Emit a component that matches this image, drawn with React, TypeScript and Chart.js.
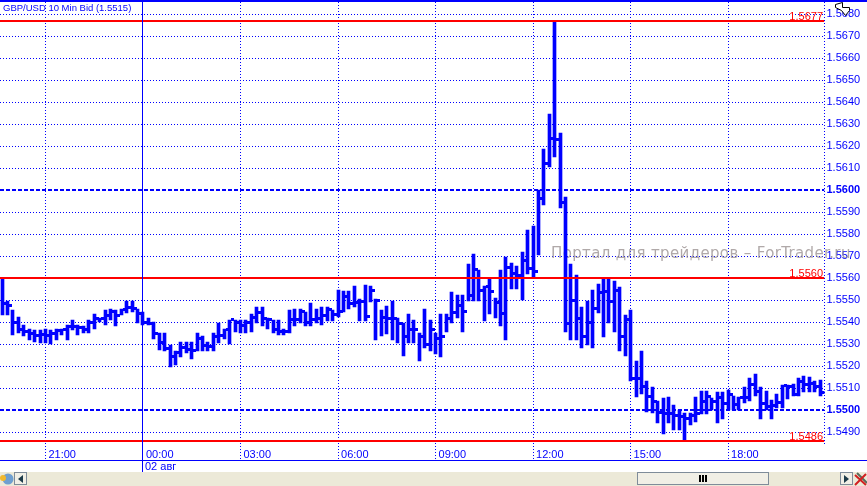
import React, { useEffect, useRef } from "react";
import { Chart, registerables } from "chart.js";

Chart.register(...registerables);

const highs = [
  1.55595,1.55497,1.55455,1.55425,1.55385,1.5537,1.55365,1.55365,1.5537,1.55365,
  1.5537,1.5537,1.55385,1.5541,1.55385,1.5538,1.5541,1.55435,1.5542,1.55455,
  1.5546,1.55455,1.5546,1.55495,1.55495,1.5546,1.55445,1.5542,1.554,1.5535,
  1.5535,1.55295,1.5527,1.5531,1.5531,1.5531,1.5535,1.55335,1.5531,1.5535,
  1.55395,1.5537,1.5541,1.5541,1.5541,1.5541,1.55435,1.5547,1.5547,1.5542,
  1.5541,1.5541,1.5537,1.55455,1.5546,1.5546,1.55445,1.55485,1.5546,1.5547,
  1.5547,1.55455,1.55545,1.5554,1.5554,1.55565,1.55505,1.5557,1.55565,1.55505,
  1.55455,1.55475,1.55495,1.5542,1.55395,1.55435,1.5541,1.5535,1.5546,1.5541,
  1.5535,1.55435,1.55435,1.55535,1.55525,1.55525,1.55665,1.5571,1.55635,1.55565,
  1.556,1.5551,1.55635,1.55695,1.5567,1.55655,1.5572,1.5582,1.55835,1.56,
  1.56185,1.56345,1.5677,1.5626,1.5597,1.55665,1.55615,1.5547,1.55495,1.55545,
  1.55575,1.55595,1.55595,1.55585,1.5556,1.5543,1.55455,1.55225,1.5527,1.5513,
  1.55105,1.5504,1.55055,1.5506,1.55025,1.55,1.54985,1.54985,1.5506,1.55085,
  1.55085,1.55055,1.5508,1.5508,1.5509,1.55065,1.5506,1.55105,1.55145,1.55165,
  1.55105,1.55085,1.55045,1.55075,1.55115,1.55115,1.5512,1.55145,1.55155,1.5515,
  1.5513,1.55135,
];
const lows = [
  1.5543,1.55432,1.5534,1.5535,1.55335,1.5532,1.5531,1.55305,1.55305,1.553,
  1.5532,1.5534,1.5532,1.55365,1.5534,1.5535,1.5535,1.5537,1.554,1.55385,
  1.5541,1.5538,1.5543,1.5544,1.55445,1.55395,1.55385,1.55385,1.55325,1.55275,
  1.5527,1.55195,1.55205,1.5524,1.5526,1.5523,1.5527,1.5527,1.5527,1.5527,
  1.55305,1.55325,1.553,1.55355,1.5535,1.5535,1.55355,1.55395,1.5538,1.5537,
  1.5535,1.5534,1.5534,1.5535,1.5538,1.55395,1.5538,1.5538,1.55395,1.55385,
  1.55405,1.55405,1.55425,1.55445,1.5546,1.5547,1.55405,1.55405,1.5549,1.5532,
  1.55335,1.55345,1.5532,1.55305,1.55245,1.55305,1.55305,1.55225,1.5528,1.5527,
  1.55255,1.5524,1.55355,1.55395,1.5542,1.55355,1.55495,1.55495,1.55495,1.55405,
  1.55435,1.5542,1.5538,1.5532,1.5555,1.5555,1.555,1.5562,1.55605,1.55705,
  1.5593,1.56105,1.5615,1.5592,1.55355,1.5532,1.5532,1.5528,1.55295,1.5528,
  1.5544,1.5533,1.55395,1.55355,1.5527,1.55245,1.5513,1.5506,1.55075,1.5499,
  1.54985,1.5494,1.5489,1.5494,1.5491,1.5491,1.5486,1.5493,1.54945,1.5498,
  1.5498,1.55,1.5494,1.5496,1.55,1.55,1.55,1.5503,1.5504,1.55065,
  1.5496,1.55,1.5496,1.5501,1.5501,1.5505,1.55065,1.55065,1.5508,1.5508,
  1.5508,1.55065,
];
const closes = [
  1.55485,1.55477,1.554,1.55365,1.55355,1.5535,1.5534,1.55345,1.5534,1.5535,
  1.5536,1.55365,1.5538,1.5538,1.55375,1.55365,1.554,1.55415,1.55415,1.5543,
  1.5545,1.5543,1.55455,1.55465,1.5546,1.5544,1.554,1.55395,1.5535,1.55305,
  1.5528,1.55245,1.5526,1.55285,1.55275,1.5527,1.55325,1.55295,1.5529,1.55335,
  1.5534,1.55365,1.5541,1.554,1.55385,1.554,1.5542,1.55445,1.55415,1.5541,
  1.55365,1.55355,1.55355,1.5541,1.5541,1.5545,1.554,1.5541,1.55415,1.5543,
  1.55455,1.55435,1.5545,1.55515,1.55485,1.5549,1.55495,1.55425,1.55545,1.555,
  1.5542,1.55415,1.55415,1.55395,1.55335,1.55365,1.55365,1.55335,1.553,1.55365,
  1.55325,1.55335,1.55415,1.55445,1.55475,1.5545,1.5552,1.5564,1.55545,1.5556,
  1.5554,1.5549,1.5544,1.5565,1.5562,1.5561,1.5568,1.55645,1.5563,1.5596,
  1.5612,1.56235,1.5623,1.55945,1.55395,1.555,1.55415,1.55335,1.554,1.5546,
  1.55535,1.5554,1.55495,1.55545,1.55335,1.5541,1.55145,1.55145,1.55105,1.5506,
  1.5504,1.5499,1.54985,1.54985,1.54975,1.5497,1.5496,1.54975,1.54985,1.5504,
  1.5506,1.5504,1.55055,1.5503,1.5507,1.55025,1.55055,1.55055,1.55115,1.55085,
  1.5503,1.55015,1.5502,1.55035,1.5511,1.55105,1.5507,1.5513,1.55115,1.5512,
  1.55105,1.5508,
];

const timeTickIndex = [8, 26, 44, 62, 80, 98, 116, 134];
const timeTickLabels = ["21:00", "00:00", "03:00", "06:00", "09:00", "12:00", "15:00", "18:00"];
const priceTicks = [
  1.568, 1.567, 1.566, 1.565, 1.564, 1.563, 1.562, 1.561, 1.56, 1.559, 1.558, 1.557, 1.556, 1.555,
  1.554, 1.553, 1.552, 1.551, 1.55, 1.549,
];
const boldPrices = [1.56, 1.55];
const redLevels = [1.5677, 1.556, 1.5486];
const dateMarkerIndex = 26;
const dateLabel = "02 авг";
const titleText = "GBP/USD 10 Min Bid (1.5515)";
const watermark = "Портал для трейдеров – ForTrader.ru";

const BLUE = "#0000ff";
const RED = "#ff0000";
const FONT = '"Liberation Sans", Arial, sans-serif';

const XMIN = -2.1 / 5.418;
const XMAX = (824.5 - 2.1) / 5.418;

const snapPlugin = {
  id: "snap",
  afterDatasetsUpdate(chart: any) {
    chart.data.datasets.forEach((ds: any, di: number) => {
      const meta = chart.getDatasetMeta(di);
      meta.data.forEach((el: any, k: number) => {
        if (ds.type === "bar") {
          el.x = Math.round(el.x - 1.5) + 1.5;
          el.y = Math.round(el.y);
          el.base = Math.round(el.base);
          el.height = el.base - el.y;
        } else if (ds.snapTick) {
          const bar = chart.getDatasetMeta(ds.barIndex).data[k];
          el.x = bar.x + 3;
          el.y = Math.round(el.y - 0.5) + 0.5;
        } else {
          el.y = Math.round(el.y);
        }
      });
    });
  },
};

const chromePlugin = {
  id: "chrome",
  beforeDatasetsDraw(chart: any) {
    const { ctx } = chart;
    ctx.save();
    ctx.fillStyle = "rgba(150,140,140,0.75)";
    ctx.font = '15px "DejaVu Sans", sans-serif';
    ctx.textAlign = "left";
    ctx.textBaseline = "alphabetic";
    (ctx as any).letterSpacing = "0.36px";
    ctx.fillText(watermark, 551, 258);
    (ctx as any).letterSpacing = "0px";
    ctx.restore();
  },
  afterDraw(chart: any) {
    const { ctx, scales } = chart;
    const x = scales.x;
    const y = scales.y;
    ctx.save();
    // frame
    ctx.fillStyle = BLUE;
    ctx.fillRect(0, 0, 867, 2);
    ctx.fillRect(0, 460, 867, 1);
    const dx = Math.round(x.getPixelForValue(dateMarkerIndex) - 0.5);
    ctx.fillRect(dx, 0, 1, 472);
    // right axis line
    ctx.strokeStyle = BLUE;
    ctx.lineWidth = 1;
    ctx.setLineDash([1, 2]);
    ctx.beginPath();
    ctx.moveTo(824.5, 2);
    ctx.lineTo(824.5, 446);
    ctx.stroke();
    ctx.setLineDash([]);
    // text
    ctx.textBaseline = "alphabetic";
    ctx.fillStyle = BLUE;
    ctx.textAlign = "left";
    ctx.font = `9.5px ${FONT}`;
    ctx.fillText(titleText, 3, 11);
    ctx.font = `11px ${FONT}`;
    ctx.fillText(dateLabel, dx + 3, 470);
    ctx.fillStyle = RED;
    ctx.textAlign = "right";
    redLevels.forEach((v) => {
      ctx.fillText(v.toFixed(4), 823, Math.round(y.getPixelForValue(v)) - 1);
    });
    // bottom bar
    ctx.fillStyle = "#ece9d8";
    ctx.fillRect(0, 472, 867, 14);
    ctx.fillStyle = "#f1efe6";
    ctx.strokeStyle = "#7f8c9a";
    ctx.fillRect(637.5, 472.5, 131, 12);
    ctx.strokeRect(637.5, 472.5, 131, 12);
    ctx.fillStyle = "#000000";
    ctx.fillRect(699, 475, 2, 7);
    ctx.fillRect(702, 475, 2, 7);
    ctx.fillRect(705, 475, 2, 7);
    [14.5, 840.5].forEach((bx) => {
      ctx.fillStyle = "#f1efe6";
      ctx.fillRect(bx, 472.5, 12, 12);
      ctx.strokeRect(bx, 472.5, 12, 12);
    });
    ctx.fillStyle = "#1d3b4a";
    ctx.beginPath();
    ctx.moveTo(23, 475);
    ctx.lineTo(23, 483);
    ctx.lineTo(18, 479);
    ctx.closePath();
    ctx.moveTo(844, 475);
    ctx.lineTo(844, 483);
    ctx.lineTo(849, 479);
    ctx.closePath();
    ctx.fill();
    // globe icon
    ctx.fillStyle = "#6f9fd0";
    ctx.beginPath();
    ctx.arc(8, 479, 5.5, 0, Math.PI * 2);
    ctx.fill();
    ctx.fillStyle = "#f2b92e";
    ctx.beginPath();
    ctx.arc(3, 478, 3, 0, Math.PI * 2);
    ctx.fill();
    // close icon
    ctx.strokeStyle = "#5a6a5a";
    ctx.lineWidth = 2;
    ctx.beginPath();
    ctx.moveTo(857, 473);
    ctx.lineTo(867, 483);
    ctx.stroke();
    ctx.strokeStyle = "#d22020";
    ctx.beginPath();
    ctx.moveTo(855, 475);
    ctx.lineTo(866, 485);
    ctx.moveTo(866, 474);
    ctx.lineTo(855, 485);
    ctx.stroke();
    // cursor glyph
    ctx.fillStyle = "#ffffff";
    ctx.strokeStyle = "#000000";
    ctx.lineWidth = 1;
    ctx.beginPath();
    ctx.moveTo(835.5, 4.5);
    ctx.lineTo(842.5, 2.5);
    ctx.lineTo(842.5, 7.5);
    ctx.lineTo(849.5, 7.5);
    ctx.lineTo(849.5, 10.5);
    ctx.lineTo(845.5, 15.5);
    ctx.lineTo(841.5, 10.5);
    ctx.lineTo(835.5, 7.5);
    ctx.closePath();
    ctx.fill();
    ctx.stroke();
    ctx.restore();
  },
};

const levelLine = (v: number, color: string, width: number, dash: number[], order: number) => ({
  type: "scatter",
  data: [
    { x: XMIN, y: v },
    { x: XMAX, y: v },
  ],
  showLine: true,
  borderColor: color,
  borderWidth: width,
  borderDash: dash,
  pointRadius: 0,
  order,
});

const zeroPadding = (axis: any) => {
  axis.paddingLeft = 0;
  axis.paddingRight = 0;
  axis.paddingTop = 0;
  axis.paddingBottom = 0;
};

export default function App() {
  const ref = useRef<HTMLCanvasElement | null>(null);
  useEffect(() => {
    document.body.style.margin = "0";
    const ds: any[] = [
      ...redLevels.map((v) => levelLine(v, RED, 2, [], 0)),
      {
        type: "bar",
        data: highs.map((h, i) => ({ x: i, y: [lows[i], h] })),
        backgroundColor: BLUE,
        borderWidth: 0,
        barThickness: 3,
        order: 2,
      },
      {
        type: "scatter",
        snapTick: true,
        barIndex: redLevels.length,
        data: closes.map((c, i) => ({ x: i + 0.55, y: c })),
        pointStyle: "rect",
        pointRadius: 3 / Math.SQRT2,
        pointBorderWidth: 0,
        pointBackgroundColor: BLUE,
        backgroundColor: BLUE,
        borderWidth: 0,
        order: 1,
      },
      ...boldPrices.map((v) => levelLine(v, BLUE, 2, [4, 2], 3)),
    ];
    const chart = new Chart(ref.current as HTMLCanvasElement, {
      data: { datasets: ds },
      plugins: [snapPlugin, chromePlugin],
      options: {
        animation: false,
        responsive: false,
        devicePixelRatio: 1,
        layout: { autoPadding: false, padding: { top: 2, left: 0, right: 0, bottom: 0 } },
        plugins: { legend: { display: false }, tooltip: { enabled: false } },
        scales: {
          x: {
            type: "linear",
            position: "bottom",
            offset: false,
            min: XMIN,
            max: XMAX,
            afterBuildTicks: (axis: any) => {
              axis.ticks = timeTickIndex.map((value) => ({ value }));
            },
            afterFit: (axis: any) => {
              axis.height = 26;
              zeroPadding(axis);
            },
            grid: { color: BLUE, lineWidth: 1, drawTicks: false, offset: false },
            border: { display: false, dash: [1, 2] },
            ticks: {
              autoSkip: false,
              maxRotation: 0,
              align: "start",
              labelOffset: 3,
              mirror: true,
              padding: -2,
              color: BLUE,
              font: { family: FONT, size: 11 },
              callback: (v: any) => timeTickLabels[timeTickIndex.indexOf(v)] ?? "",
            },
          },
          y: {
            type: "linear",
            position: "right",
            min: 1.556 - 182 / 22000,
            max: 1.556 + 276 / 22000,
            afterBuildTicks: (axis: any) => {
              axis.ticks = priceTicks.map((value) => ({ value }));
            },
            afterFit: (axis: any) => {
              axis.width = 42.5;
              zeroPadding(axis);
            },
            grid: { color: BLUE, lineWidth: 1, drawTicks: false },
            border: { display: false, dash: [1, 2] },
            ticks: {
              autoSkip: false,
              padding: 2,
              color: BLUE,
              crossAlign: "near",
              font: (c: any) => ({
                family: FONT,
                size: 11,
                weight: boldPrices.some((b) => Math.abs(b - c.tick?.value) < 1e-6) ? "bold" : "normal",
              }),
              callback: (v: any) => Number(v).toFixed(4),
            },
          },
        },
      },
    } as any);
    return () => chart.destroy();
  }, []);
  return <canvas ref={ref} width={867} height={486} style={{ display: "block" }} />;
}
